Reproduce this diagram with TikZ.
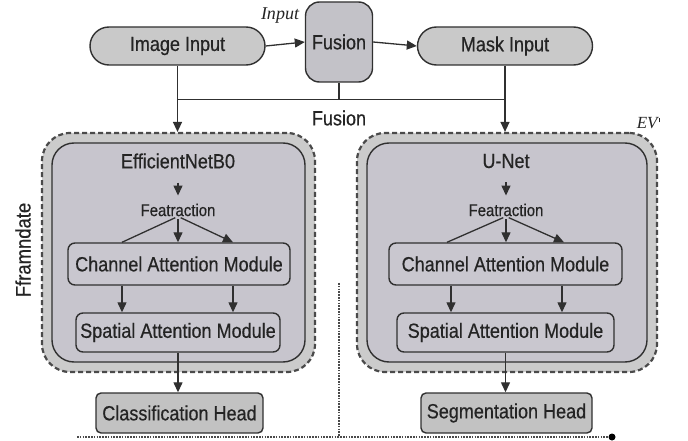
\documentclass[tikz,border=0pt]{standalone}
\usepackage{fontspec}
\setmainfont{Liberation Sans}[FakeStretch=0.88, FakeBold=0.5]
\newfontfamily\lserif{Liberation Serif}
\usetikzlibrary{arrows.meta}
\definecolor{edge}{HTML}{303030}
\definecolor{txt}{HTML}{242424}
\definecolor{pillfill}{HTML}{C9C9C9}
\definecolor{fusfill}{HTML}{C3C2C8}
\definecolor{ringfill}{HTML}{CBCBCB}
\definecolor{innerfill}{HTML}{C7C5CD}
\definecolor{modfill}{HTML}{C9C7CF}
\definecolor{headfill}{HTML}{C2C2C2}
\definecolor{dashgray}{HTML}{4A4A4A}
\begin{document}
\begin{tikzpicture}[x=1pt,y=-1pt,
  lbl/.style={inner sep=0pt, text=txt, font=\fontsize{20.5}{22}\selectfont},
  box/.style={lbl, draw=edge, line width=1.4pt},
  pill/.style={box, fill=pillfill, rounded corners=19pt, minimum width=175pt, minimum height=38pt},
  fusbox/.style={box, fill=fusfill, rounded corners=14pt, minimum width=67pt, minimum height=80pt},
  outerbox/.style={draw=dashgray, line width=2.2pt, dash pattern=on 5pt off 3pt, fill=ringfill, rounded corners=28pt, inner sep=0pt},
  innerbox/.style={draw=edge, line width=1.4pt, fill=innerfill, rounded corners=22pt, inner sep=0pt},
  modbox/.style={box, fill=modfill, rounded corners=7pt},
  headbox/.style={box, fill=headfill, rounded corners=5pt, minimum height=40pt},
  small/.style={lbl, font=\fontsize{17}{19}\selectfont},
  arr/.style={-{Triangle[length=10pt,width=9pt]}, line width=1.3pt, draw=edge},
  plain/.style={line width=1.3pt, draw=edge},
  dotline/.style={draw=dashgray, line width=1.8pt, dash pattern=on 1.5pt off 1.3pt}
]
\useasboundingbox (0,0) rectangle (688,441);

% top row
\node[pill] (img) at (177.5,46) {Image Input};
\node[fusbox] (fus) at (339,42) {Fusion};
\node[pill] (mask) at (505,46) {Mask Input};
\node[lbl, font=\lserif\itshape\fontsize{18}{18}\selectfont] (inl) at (280,16) {Input};

% outer and inner containers
\node[outerbox, minimum width=273pt, minimum height=239pt] (outL) at (178.5,252.5) {};
\node[innerbox, minimum width=253pt, minimum height=219pt] (inL) at (178.5,252.5) {};
\node[outerbox, minimum width=300pt, minimum height=239pt] (outR) at (507,252.5) {};
\node[innerbox, minimum width=280pt, minimum height=219pt] (inR) at (507,252.5) {};

\node[lbl, font=\lserif\itshape\fontsize{17}{17}\selectfont] (ev) at (648,123) {EV\kern1pt\raisebox{6pt}{\rule{0.7pt}{4.5pt}}};
\node[lbl, font=\fontsize{21}{22}\selectfont, rotate=90] (ffr) at (23,250) {Fframndate};

% connectors top
\draw[arr] (img.east) -- (fus.west);
\draw[arr] (fus.east) -- (mask.west);
\draw[plain] (fus.south) -- ++(0,17) coordinate (bj);
\draw[plain] (img.south |- bj) -- (mask.south |- bj);
\draw[arr] (img.south) -- (img.south |- outL.north);
\draw[arr] (mask.south) -- (mask.south |- outR.north);
\node[lbl] (fl) at (339,118) {Fusion};

% left branch
\node[lbl] (effL) at (178,161) {EfficientNetB0};
\node[small] (featL) at (178,210) {Featraction};
\node[modbox, minimum width=222pt, minimum height=42pt] (chL) at (179,264) {Channel Attention Module};
\node[modbox, minimum width=204pt, minimum height=39pt] (spL) at (178,332.5) {Spatial Attention Module};
\node[headbox, minimum width=167pt] (hdL) at (179.5,413) {Classification Head};

\draw[arr, shorten <=14pt, shorten >=8pt] (effL) -- (featL);
\draw[arr, shorten <=3pt] (featL.south) -- (chL.north -| featL.south);
\draw[arr, shorten <=3pt] (featL.south) -- ([xshift=54pt]chL.north);
\draw[plain, shorten <=3pt] (featL.south) -- ([xshift=-57pt]chL.north);
\draw[arr] ([xshift=-57pt]chL.south) -- ([xshift=-57pt]chL.south |- spL.north);
\draw[arr] ([xshift=54pt]chL.south) -- ([xshift=54pt]chL.south |- spL.north);
\draw[arr] (spL.south) -- (spL.south |- hdL.north);

% right branch
\node[lbl] (effR) at (506,161) {U-Net};
\node[small] (featR) at (506,210) {Featraction};
\node[modbox, minimum width=233pt, minimum height=42pt] (chR) at (505.5,264) {Channel Attention Module};
\node[modbox, minimum width=217pt, minimum height=39pt] (spR) at (505.5,332.5) {Spatial Attention Module};
\node[headbox, minimum width=171pt] (hdR) at (506.5,413) {Segmentation Head};

\draw[arr, shorten <=14pt, shorten >=8pt] (effR) -- (featR);
\draw[arr, shorten <=3pt] (featR.south) -- (chR.north -| featR.south);
\draw[arr, shorten <=3pt] (featR.south) -- ([xshift=58.5pt]chR.north);
\draw[plain, shorten <=3pt] (featR.south) -- ([xshift=-58.5pt]chR.north);
\draw[arr] ([xshift=-54.5pt]chR.south) -- ([xshift=-54.5pt]chR.south |- spR.north);
\draw[arr] ([xshift=56.5pt]chR.south) -- ([xshift=56.5pt]chR.south |- spR.north);
\draw[arr] (spR.south) -- (spR.south |- hdR.north);

% dotted bracket
\coordinate (dTop) at (339,283);
\coordinate (dBot) at (339,437);
\coordinate (dL) at (77,437);
\node[circle, fill=black, inner sep=0pt, minimum size=7pt] (dot) at (612,437) {};
\draw[dotline] (dTop) -- (dBot);
\draw[dotline] (dL) -- (dot);
\end{tikzpicture}
\end{document}
